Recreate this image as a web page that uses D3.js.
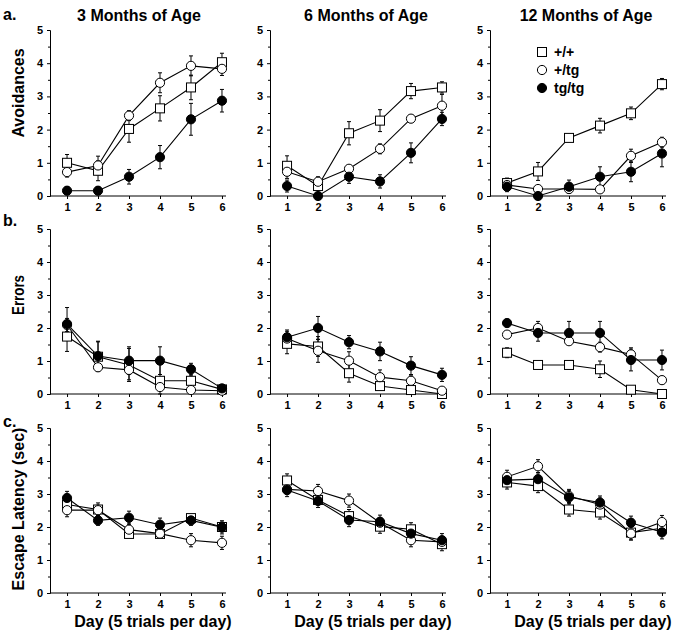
<!DOCTYPE html>
<html><head><meta charset="utf-8">
<script src="https://cdn.jsdelivr.net/npm/d3@7"></script>
<style>
body{margin:0;background:#fff;}
svg{display:block;font-family:"Liberation Sans",Arial,Helvetica,sans-serif;font-weight:bold;}
</style></head>
<body><svg id="c" width="678" height="641"></svg>
<script>
// ---- data ----
const days = [1, 2, 3, 4, 5, 6];
const ages = ["3 Months of Age", "6 Months of Age", "12 Months of Age"];
const measures = ["Avoidances", "Errors", "Escape Latency (sec)"];
const rowLetters = ["a.", "b.", "c."];
const genotypes = ["+/+", "+/tg", "tg/tg"];
const yTicks = [0, 1, 2, 3, 4, 5];

// Avoidances
const avoid3_wt  = [1.0, 0.76, 2.02, 2.64, 3.27, 4.03];
const avoid3_het = [0.72, 0.92, 2.42, 3.41, 3.92, 3.83];
const avoid3_hom = [0.16, 0.16, 0.58, 1.17, 2.31, 2.87];
const avoid3_wt_se  = [0.25, 0.3, 0.4, 0.38, 0.37, 0.27];
const avoid3_het_se = [0.15, 0.28, 0.15, 0.3, 0.3, 0.2];
const avoid3_hom_se = [0.12, 0.12, 0.22, 0.35, 0.48, 0.34];

const avoid6_wt  = [0.91, 0.3, 1.89, 2.27, 3.16, 3.27];
const avoid6_het = [0.73, 0.43, 0.82, 1.42, 2.33, 2.72];
const avoid6_hom = [0.3, 0.0, 0.58, 0.44, 1.3, 2.32];
const avoid6_wt_se  = [0.3, 0.2, 0.35, 0.33, 0.23, 0.17];
const avoid6_het_se = [0.2, 0.15, 0.1, 0.15, 0.12, 0.34];
const avoid6_hom_se = [0.18, 0.05, 0.2, 0.2, 0.3, 0.2];

const avoid12_wt  = [0.39, 0.74, 1.75, 2.12, 2.49, 3.37];
const avoid12_het = [0.33, 0.21, 0.21, 0.2, 1.21, 1.62];
const avoid12_hom = [0.28, 0.0, 0.28, 0.58, 0.73, 1.28];
const avoid12_wt_se  = [0.15, 0.27, 0.1, 0.22, 0.19, 0.17];
const avoid12_het_se = [0.15, 0.1, 0.1, 0.1, 0.2, 0.15];
const avoid12_hom_se = [0.15, 0.05, 0.2, 0.3, 0.3, 0.4];

// Errors
const err3_wt  = [1.74, 1.13, 0.88, 0.4, 0.4, 0.14];
const err3_het = [2.09, 0.81, 0.73, 0.21, 0.12, 0.1];
const err3_hom = [2.12, 1.15, 1.01, 1.01, 0.75, 0.17];
const err3_wt_se  = [0.45, 0.45, 0.5, 0.5, 0.2, 0.08];
const err3_het_se = [0.2, 0.1, 0.3, 0.1, 0.05, 0.05];
const err3_hom_se = [0.5, 0.45, 0.42, 0.42, 0.18, 0.1];

const err6_wt  = [1.52, 1.44, 0.63, 0.24, 0.12, 0.0];
const err6_het = [1.68, 1.31, 1.01, 0.51, 0.4, 0.1];
const err6_hom = [1.72, 2.0, 1.57, 1.29, 0.86, 0.58];
const err6_wt_se  = [0.3, 0.3, 0.27, 0.1, 0.08, 0.02];
const err6_het_se = [0.22, 0.35, 0.27, 0.22, 0.15, 0.08];
const err6_hom_se = [0.22, 0.35, 0.2, 0.28, 0.27, 0.2];

const err12_wt  = [1.25, 0.88, 0.88, 0.75, 0.13, 0.0];
const err12_het = [1.8, 2.0, 1.6, 1.42, 1.2, 0.42];
const err12_hom = [2.15, 1.85, 1.85, 1.85, 1.03, 1.03];
const err12_wt_se  = [0.15, 0.1, 0.1, 0.25, 0.08, 0.02];
const err12_het_se = [0.1, 0.2, 0.1, 0.15, 0.2, 0.12];
const err12_hom_se = [0.12, 0.25, 0.35, 0.35, 0.33, 0.3];

// Escape latency
const esc3_wt  = [2.68, 2.53, 1.79, 1.79, 2.27, 2.0];
const esc3_het = [2.51, 2.51, 1.92, 1.8, 1.6, 1.52];
const esc3_hom = [2.88, 2.2, 2.28, 2.07, 2.2, 1.99];
const esc3_wt_se  = [0.15, 0.2, 0.08, 0.1, 0.1, 0.15];
const esc3_het_se = [0.2, 0.15, 0.2, 0.1, 0.2, 0.2];
const esc3_hom_se = [0.2, 0.15, 0.2, 0.2, 0.15, 0.2];

const esc6_wt  = [3.41, 2.82, 2.33, 2.01, 1.93, 1.48];
const esc6_het = [3.14, 3.09, 2.8, 2.13, 1.6, 1.55];
const esc6_hom = [3.12, 2.79, 2.21, 2.16, 1.8, 1.6];
const esc6_wt_se  = [0.2, 0.15, 0.2, 0.2, 0.2, 0.2];
const esc6_het_se = [0.15, 0.2, 0.2, 0.15, 0.2, 0.15];
const esc6_hom_se = [0.2, 0.2, 0.2, 0.2, 0.15, 0.2];

const esc12_wt  = [3.35, 3.24, 2.53, 2.44, 1.83, 1.96];
const esc12_het = [3.52, 3.84, 2.94, 2.68, 1.8, 2.15];
const esc12_hom = [3.42, 3.45, 2.9, 2.74, 2.13, 1.84];
const esc12_wt_se  = [0.2, 0.2, 0.2, 0.2, 0.2, 0.15];
const esc12_het_se = [0.2, 0.2, 0.2, 0.2, 0.2, 0.2];
const esc12_hom_se = [0.2, 0.2, 0.2, 0.2, 0.2, 0.2];

const panelData = [
  [[avoid3_wt, avoid3_het, avoid3_hom, avoid3_wt_se, avoid3_het_se, avoid3_hom_se],
   [avoid6_wt, avoid6_het, avoid6_hom, avoid6_wt_se, avoid6_het_se, avoid6_hom_se],
   [avoid12_wt, avoid12_het, avoid12_hom, avoid12_wt_se, avoid12_het_se, avoid12_hom_se]],
  [[err3_wt, err3_het, err3_hom, err3_wt_se, err3_het_se, err3_hom_se],
   [err6_wt, err6_het, err6_hom, err6_wt_se, err6_het_se, err6_hom_se],
   [err12_wt, err12_het, err12_hom, err12_wt_se, err12_het_se, err12_hom_se]],
  [[esc3_wt, esc3_het, esc3_hom, esc3_wt_se, esc3_het_se, esc3_hom_se],
   [esc6_wt, esc6_het, esc6_hom, esc6_wt_se, esc6_het_se, esc6_hom_se],
   [esc12_wt, esc12_het, esc12_hom, esc12_wt_se, esc12_het_se, esc12_hom_se]]
];

// ---- layout ----
const svg = d3.select("#c");
const colLeft = [50, 270, 490];
const plotW = 176;
const rowTop = [30, 229, 428];
const rowBottom = [196, 394, 593];
const titleX = [139, 366, 586];
const ylabelY = [93, 295, 509];
const letterY = [20, 226, 427];

// titles
ages.forEach((t, i) => {
  svg.append("text").attr("x", titleX[i]).attr("y", 21).attr("text-anchor", "middle")
    .attr("font-size", 16).text(t);
});

function drawMarker(g, type, x, y) {
  if (type === 0) {
    g.append("rect").attr("x", x - 4.5).attr("y", y - 4.5).attr("width", 9).attr("height", 9)
      .attr("fill", "#fff").attr("stroke", "#000").attr("stroke-width", 1);
  } else if (type === 1) {
    g.append("circle").attr("cx", x).attr("cy", y).attr("r", 4.6)
      .attr("fill", "#fff").attr("stroke", "#000").attr("stroke-width", 1);
  } else {
    g.append("circle").attr("cx", x).attr("cy", y).attr("r", 4.6)
      .attr("fill", "#000").attr("stroke", "#000").attr("stroke-width", 1);
  }
}

for (let r = 0; r < 3; r++) {
  svg.append("text").attr("x", 3).attr("y", letterY[r]).attr("font-size", 16).text(rowLetters[r]);
  const yl = svg.append("text")
    .attr("transform", `translate(${r === 2 ? 24 : 24},${ylabelY[r]}) rotate(-90)`)
    .attr("text-anchor", "middle").attr("font-size", 16).text(measures[r]);
  if (r === 1) yl.attr("textLength", 40).attr("lengthAdjust", "spacingAndGlyphs");

  for (let c = 0; c < 3; c++) {
    const x = d3.scaleLinear().domain([0.45, 6.13]).range([colLeft[c], colLeft[c] + plotW]);
    const y = d3.scaleLinear().domain([0, 5]).range([rowBottom[r], rowTop[r]]);
    const g = svg.append("g");

    // y axis
    const ya = g.append("g").attr("transform", `translate(${colLeft[c]},0)`)
      .call(d3.axisLeft(y).tickValues(yTicks).tickSize(3).tickPadding(4).tickFormat(d3.format("d")));
    ya.selectAll("text").attr("font-size", 11).attr("font-weight", "bold")
      .attr("font-family", '"Liberation Sans",Arial,sans-serif').attr("fill", "#000");
    ya.select(".domain").attr("stroke", "#000");
    g.append("g").attr("transform", `translate(${colLeft[c]},0)`)
      .call(d3.axisLeft(y).tickValues([0.5, 1.5, 2.5, 3.5, 4.5]).tickSize(2).tickFormat(""))
      .select(".domain").remove();

    // x axis
    const xa = g.append("g").attr("transform", `translate(0,${rowBottom[r]})`)
      .call(d3.axisBottom(x).tickValues(days).tickSize(3).tickPadding(4).tickFormat(d3.format("d")));
    xa.selectAll("text").attr("font-size", 11).attr("font-weight", "bold")
      .attr("font-family", '"Liberation Sans",Arial,sans-serif').attr("fill", "#000");
    xa.select(".domain").attr("d", `M${colLeft[c]},0H${colLeft[c] + plotW}`);

    const pd = panelData[r][c];
    const line = d3.line().x((d, i) => x(days[i])).y(d => y(d));
    // lines
    for (let s = 0; s < 3; s++) {
      g.append("path").attr("d", line(pd[s])).attr("fill", "none")
        .attr("stroke", "#000").attr("stroke-width", 1.1);
    }
    // error bars
    for (let s = 0; s < 3; s++) {
      pd[s].forEach((v, i) => {
        const e = pd[s + 3][i];
        const xx = x(days[i]);
        const y1 = y(Math.max(0, v - e)), y2 = y(v + e);
        g.append("line").attr("x1", xx).attr("x2", xx).attr("y1", y1).attr("y2", y2)
          .attr("stroke", "#000").attr("stroke-width", 1);
        [y1, y2].forEach(yy => g.append("line").attr("x1", xx - 2).attr("x2", xx + 2)
          .attr("y1", yy).attr("y2", yy).attr("stroke", "#000").attr("stroke-width", 1));
      });
    }
    // markers
    for (let s = 0; s < 3; s++) {
      pd[s].forEach((v, i) => drawMarker(g, s, x(days[i]), y(v)));
    }

    if (r === 2) {
      svg.append("text").attr("x", colLeft[c] + plotW / 2 + 15).attr("y", 627)
        .attr("text-anchor", "middle").attr("font-size", 16).text("Day (5 trials per day)");
    }
  }
}

// legend
const legY = [52, 70, 88];
genotypes.forEach((gname, i) => {
  drawMarker(svg, i, 542, legY[i]);
  svg.append("text").attr("x", 554).attr("y", legY[i] + 5).attr("font-size", 14).text(gname);
});
</script></body></html>
